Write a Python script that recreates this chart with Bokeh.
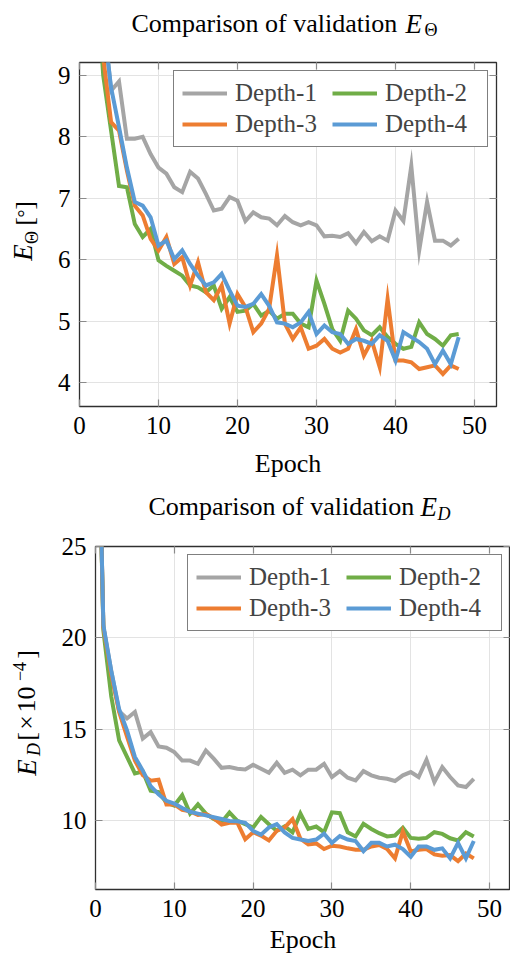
import math
from bokeh.plotting import figure
from bokeh.models import (Range1d, FixedTicker, LinearAxis, Legend, LegendItem,
                          CustomJSTickFormatter)
from bokeh.core.properties import value
from bokeh.layouts import column, row
from bokeh.embed import file_html
from bokeh.resources import INLINE

epochs = list(range(0, 49))
series_names = ["Depth-1", "Depth-2", "Depth-3", "Depth-4"]
series_colors = ["#A5A5A5", "#70AD47", "#ED7D31", "#5B9BD5"]

theta_d1 = [30.0, 14.0, 11.0, 10.0, 8.75, 8.9, 7.97, 7.97, 8.0, 7.72, 7.5, 7.4, 7.18, 7.1, 7.43, 7.32,
            7.07, 6.8, 6.83, 7.02, 6.96, 6.63, 6.77, 6.69, 6.67, 6.56, 6.71, 6.61, 6.56, 6.61, 6.56,
            6.38, 6.39, 6.37, 6.43, 6.27, 6.45, 6.30, 6.38, 6.31, 6.8, 6.63, 7.53, 6.15, 6.94, 6.31,
            6.31, 6.23, 6.34]
theta_d2 = [30.0, 13.5, 11.0, 9.0, 8.1, 7.2, 7.18, 6.58, 6.37, 6.5, 5.99, 5.9, 5.82, 5.74, 5.58, 5.55,
            5.47, 5.58, 5.2, 5.39, 5.15, 5.17, 5.28, 5.09, 5.17, 5.04, 5.12, 5.12, 4.96, 4.9, 5.66,
            5.28, 4.87, 4.68, 5.17, 5.04, 4.85, 4.77, 4.9, 4.74, 4.63, 4.55, 4.58, 4.98, 4.79, 4.71,
            4.6, 4.77, 4.79]
theta_d3 = [30.0, 14.0, 11.5, 9.3, 8.24, 8.1, 7.45, 6.88, 6.72, 6.34, 6.15, 6.37, 5.93, 6.04, 5.58,
            5.96, 5.47, 5.34, 5.58, 4.96, 5.44, 5.23, 4.82, 4.96, 5.2, 6.07, 4.96, 4.71, 4.9, 4.55,
            4.6, 4.71, 4.55, 4.49, 4.55, 4.87, 4.44, 4.68, 4.25, 5.36, 4.36, 4.36, 4.33, 4.22, 4.25,
            4.28, 4.14, 4.28, 4.22]
theta_d4 = [30.0, 15.0, 12.0, 9.9, 8.8, 8.16, 7.5, 6.94, 6.88, 6.69, 6.23, 6.31, 6.01, 6.15, 5.93,
            5.74, 5.58, 5.63, 5.77, 5.5, 5.25, 5.23, 5.28, 5.44, 5.25, 4.98, 4.96, 4.9, 4.98, 5.15,
            4.79, 4.93, 4.82, 4.79, 4.63, 4.71, 4.68, 4.63, 4.77, 4.68, 4.36, 4.82, 4.74, 4.66, 4.55,
            4.3, 4.52, 4.3, 4.74]

ed_d1 = [40.0, 20.6, 18.2, 16.0, 15.6, 15.95, 14.5, 14.85, 14.07, 14.0, 13.76, 13.3, 13.3, 13.12,
         13.85, 13.4, 12.9, 12.94, 12.85, 12.81, 13.07, 12.85, 12.63, 13.18, 12.63, 12.8, 12.49, 12.8,
         12.8, 13.12, 12.4, 12.72, 12.36, 12.21, 12.72, 12.49, 12.36, 12.3, 12.18, 12.49, 12.67, 12.4,
         13.34, 12.12, 12.94, 12.4, 11.94, 11.85, 12.3]
ed_d2 = [40.0, 20.4, 16.8, 14.4, 13.5, 12.6, 12.7, 11.65, 11.58, 11.0, 10.84, 11.4, 10.4, 10.9, 10.4,
         10.1, 9.92, 10.46, 10.0, 9.82, 9.64, 10.22, 9.82, 9.46, 9.7, 9.37, 10.4, 9.56, 9.69, 9.38,
         10.47, 10.42, 9.38, 9.15, 9.84, 9.56, 9.33, 9.15, 9.2, 9.62, 9.07, 9.02, 9.07, 9.38, 9.29,
         9.05, 8.93, 9.38, 9.15]
ed_d3 = [40.0, 20.6, 18.0, 15.95, 14.6, 13.3, 12.5, 12.2, 12.25, 10.9, 10.9, 10.6, 10.52, 10.33,
         10.37, 10.15, 9.8, 9.9, 9.9, 9.0, 9.38, 9.2, 8.93, 9.46, 9.64, 10.1, 9.02, 8.71, 8.77, 8.46,
         8.64, 8.6, 8.5, 8.42, 8.42, 8.6, 8.68, 8.46, 7.95, 9.42, 8.33, 8.42, 8.46, 8.17, 8.1, 8.13,
         7.8, 8.22, 7.95]
ed_d4 = [40.0, 20.7, 18.2, 16.1, 14.95, 13.5, 12.75, 11.9, 11.45, 11.1, 10.95, 10.7, 10.5, 10.4,
         10.3, 10.2, 10.1, 10.0, 9.98, 9.9, 9.45, 9.25, 9.64, 9.82, 9.37, 9.07, 8.98, 8.9, 8.98, 9.3,
         8.8, 9.17, 8.98, 8.9, 8.35, 8.8, 8.8, 8.6, 8.7, 8.46, 8.04, 8.6, 8.6, 8.42, 8.5, 7.95, 8.8,
         7.95, 8.9]

x_ticks = [0, 10, 20, 30, 40, 50]
theta_ticks = [4, 5, 6, 7, 8, 9]
ed_ticks = [10, 15, 20, 25]

SERIF = "Liberation Serif"
EMPTY = CustomJSTickFormatter(code="return ''")


def style_axis(ax, ticks, standoff=5, show_labels=True):
    ax.ticker = FixedTicker(ticks=ticks)
    ax.axis_line_color = None
    ax.major_tick_in = 7
    ax.major_tick_out = 0
    ax.major_tick_line_color = "#8a8a8a"
    ax.major_tick_line_width = 1.2
    ax.minor_tick_line_color = None
    ax.major_label_text_font = SERIF
    ax.major_label_text_color = "black"
    ax.major_label_text_font_size = "25px"
    if show_labels:
        ax.major_label_standoff = standoff
    else:
        ax.formatter = EMPTY
        ax.major_label_standoff = 0


def make_fig(w, h, bl, br, bt, bb, xmax, ymin, ymax, yticks, data, label_standoff):
    p = figure(width=w, height=h, output_backend="svg", toolbar_location=None,
               x_range=Range1d(0, xmax), y_range=Range1d(ymin, ymax),
               min_border_top=bt, min_border_bottom=bb, min_border_left=bl,
               min_border_right=br)
    p.background_fill_color = "white"
    p.border_fill_color = "white"
    p.outline_line_color = "#303030"
    p.outline_line_width = 1.3
    p.grid.grid_line_color = "#e3e3e3"
    p.grid.grid_line_width = 1
    p.xgrid.ticker = FixedTicker(ticks=x_ticks)
    p.ygrid.ticker = FixedTicker(ticks=yticks)
    style_axis(p.xaxis[0], x_ticks, 10)
    style_axis(p.yaxis[0], yticks, 9)
    p.xaxis.axis_label = "Epoch"
    p.xaxis.axis_label_text_font = SERIF
    p.xaxis.axis_label_text_font_size = "26px"
    p.xaxis.axis_label_text_font_style = "normal"
    p.xaxis.axis_label_standoff = label_standoff
    p.xaxis.axis_label_text_color = "black"
    top_ax = LinearAxis()
    style_axis(top_ax, x_ticks, show_labels=False)
    right_ax = LinearAxis()
    style_axis(right_ax, yticks, show_labels=False)
    p.add_layout(top_ax, "above")
    p.add_layout(right_ax, "right")

    items = []
    for name, color, ys in zip(series_names, series_colors, data):
        r = p.line(epochs, ys, line_color=color, line_width=4, line_join="miter")
        items.append(LegendItem(label=name, renderers=[r]))
    legend = Legend(items=items, orientation="horizontal", nrows=2, location="top_right",
                    glyph_width=45, glyph_height=20, label_standoff=8, label_width=94,
                    label_text_font=SERIF, label_text_font_size="25px", label_height=20,
                    padding=8, spacing=3, margin=8,
                    border_line_color="black", border_line_width=1.2,
                    background_fill_color="white", background_fill_alpha=1)
    p.add_layout(legend, "center")
    return p


def text_fig(w, h, bt=0, bb=0):
    # the frame spans the whole width and h - bt - bb of the height
    p = figure(width=w, height=h, output_backend="svg", toolbar_location=None,
               x_range=Range1d(0, w), y_range=Range1d(0, h - bt - bb),
               x_axis_type=None, y_axis_type=None,
               min_border=0, min_border_left=0, min_border_right=0, min_border_top=bt,
               min_border_bottom=bb)
    p.outline_line_color = None
    p.background_fill_color = "white"
    p.border_fill_color = "white"
    p.grid.visible = False
    return p


def put(p, xs, ys, texts, size, style="normal", angle=0.0, align="left"):
    p.text(x=xs, y=ys, text=texts, text_font=value(SERIF), text_font_size=value(f"{size}px"),
           text_font_style=style, text_color="black", angle=angle, text_align=align,
           text_baseline="middle")


R = math.pi / 2

# ---------- top block (page y 0..490) ----------
t1 = text_fig(510, 48)          # page y 0..48 -> y = 48-py
put(t1, [131], [48 - 23], ["Comparison of validation"], 26)
put(t1, [405], [48 - 23], ["E"], 27, "italic")
put(t1, [424], [48 - 29], ["Θ"], 18)

yl1 = text_fig(54, 442, 14, 84)  # frame page y 62..406 -> y = 406-py (centres of the pieces)
put(yl1, [22], [406 - 252], ["E"], 27, "italic", R, "center")
put(yl1, [31], [406 - 237], ["Θ"], 18, "normal", R, "center")
put(yl1, [24, 24], [406 - 221, 406 - 205], ["[", "]"], 26, "normal", R, "center")
put(yl1, [24], [406 - 213], ["°"], 20, "normal", R, "center")

p1 = make_fig(456, 442, 25, 14, 14, 84, 417 / 7.9, 3.61, 9.21, theta_ticks,
              [theta_d1, theta_d2, theta_d3, theta_d4], 12)

# ---------- bottom block (page y 490..960) ----------
t2 = text_fig(510, 40)          # page y 490..530 -> y = 530-py
put(t2, [148], [530 - 506], ["Comparison of validation"], 26)
put(t2, [420], [530 - 506], ["E"], 27, "italic")
put(t2, [437], [530 - 513], ["D"], 18, "italic")

yl2 = text_fig(58, 430, 16, 71)  # frame page y 546..889 -> y = 889-py (centres of the pieces)
put(yl2, [26], [889 - 767], ["E"], 27, "italic", R, "center")
put(yl2, [33], [889 - 749], ["D"], 18, "italic", R, "center")
put(yl2, [26, 26, 26, 26], [889 - 736, 889 - 722, 889 - 699, 889 - 654], ["[", "×", "10", "]"], 26,
    "normal", R, "center")
put(yl2, [19], [889 - 671], ["−4"], 18, "normal", R, "center")

p2 = make_fig(452, 430, 36, 0, 16, 71, 416 / 7.9, 6.25, 25, ed_ticks,
              [ed_d1, ed_d2, ed_d3, ed_d4], 5)

layout = column(t1, row(yl1, p1, spacing=0), t2, row(yl2, p2, spacing=0), spacing=0)
open("out.html", "w").write(file_html(layout, INLINE))
